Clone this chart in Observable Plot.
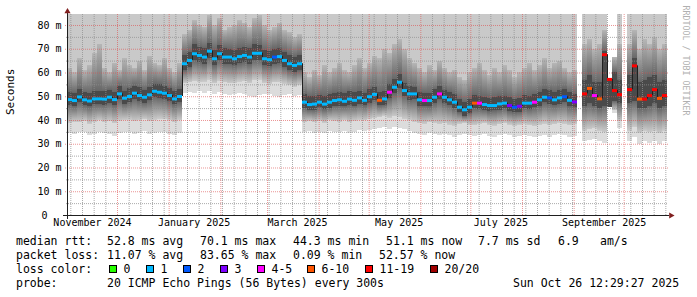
<!DOCTYPE html>
<html><head><meta charset="utf-8">
<script src="https://cdn.jsdelivr.net/npm/d3@7"></script>
<script src="https://cdn.jsdelivr.net/npm/@observablehq/plot@0.6"></script>
<style>
html,body{margin:0;padding:0;background:#fff;}
#wrap{position:relative;width:697px;height:297px;overflow:hidden;font-family:"DejaVu Sans Mono",monospace;}
#chart svg{display:block;}
#legend{position:absolute;left:0;top:232px;width:697px;height:65px;font-size:11.5px;line-height:14px;color:#000;}
#legend .t{position:absolute;white-space:pre;}
#legend .b{position:absolute;width:6px;height:6px;border:1px solid #000;}
</style></head><body>
<svg width="0" height="0" style="position:absolute">
<defs>
<linearGradient id="gLow" x1="0" y1="1" x2="0" y2="0"><stop offset="0" stop-color="#cacaca"/><stop offset="1" stop-color="#676767"/></linearGradient>
<linearGradient id="gUp" x1="0" y1="1" x2="0" y2="0"><stop offset="0" stop-color="#676767"/><stop offset="1" stop-color="#b6b6b6"/></linearGradient>
</defs></svg>
<div id="wrap"><div id="chart"></div><div id="legend"></div></div>
<script>
// ---- time frame (3-day buckets, 360 days) ----
const startDate = "2024-11-01T00:00:00Z";
const endDate = "2025-10-27T00:00:00Z";
const bucketDays = 3;

// ---- median rtt (ms) per bucket ----
const median = [
48.8,48.4,49.9,48.7,48.2,49.1,49.1,49.0,49.8,48.8,51.2,49.4,50.1,51.5,50.5,49.8,50.8,52.3,51.9,51.5,50.5,49.1,50.1,
63.9,65.3,68.1,67.4,66.7,69.2,66.0,68.1,66.7,66.7,66.0,66.9,67.4,66.7,68.3,68.3,66.0,65.6,66.7,66.9,65.3,63.9,63.2,63.9,
47.7,46.7,46.9,47.7,46.9,47.7,48.4,48.7,48.1,49.0,48.5,49.5,48.5,50.0,51.0,48.5,49.1,51.9,54.0,56.1,52.6,51.2,51.2,48.7,48.4,48.4,49.8,51.2,49.8,48.7,47.7,45.6,44.5,45.6,47.3,47.3,46.7,46.3,46.3,47.0,47.3,46.3,45.6,46.0,47.3,47.3,47.7,48.7,49.8,49.5,48.7,49.5,50.0,48.5,47.8,
null,51.2,53.5,50.5,49.1,67.7,57.3,52.6,50.9,null,53.0,63.0,49.0,49.0,50.5,53.0,49.3,50.5];

// ---- loss class per bucket (index into lossLabels) ----
const loss = [
1,1,1,1,1,1,1,1,1,1,1,1,1,1,1,1,1,1,1,1,1,1,1,
1,1,1,1,1,1,1,1,1,1,1,1,1,1,1,1,1,1,2,1,1,1,1,1,
1,1,1,1,1,1,1,1,1,1,1,1,1,1,1,5,1,4,1,1,1,1,1,1,4,1,1,4,1,1,1,1,1,1,5,4,1,1,1,1,1,3,2,3,1,1,4,1,1,2,1,1,2,1,3,
0,6,5,4,5,6,6,6,6,0,6,6,5,6,6,6,5,6];

// ---- smoke band edges (ms) per bucket ----
const lo = [
34.5,34.0,34.8,35.0,33.6,34.2,35.1,34.6,34.0,33.2,34.5,34.8,35.0,34.2,34.6,35.2,34.0,34.4,34.8,35.0,34.1,33.5,34.7,
51.5,51.8,51.2,52.0,51.5,52.2,51.0,51.6,50.8,50.6,51.0,51.4,50.8,50.2,49.6,50.5,50.8,51.0,50.2,49.8,50.6,51.0,50.2,50.4,
34.8,35.2,34.6,35.0,34.4,35.5,35.0,34.8,35.3,34.6,35.0,35.6,35.2,35.8,36.0,36.5,37.0,36.4,37.2,36.8,36.0,35.4,34.6,34.0,33.8,34.5,34.2,33.6,34.0,33.5,33.0,33.8,34.2,33.5,33.2,33.8,34.0,33.4,33.0,33.6,34.0,33.5,33.0,33.4,33.8,33.2,32.8,33.4,33.8,33.0,33.5,34.0,33.6,33.0,33.4,
null,31.0,31.5,32.0,31.0,30.5,45.5,43.0,36.6,null,31.0,33.0,30.0,31.0,30.5,31.0,30.0,31.0];
const l1 = [
38.8,39.2,39.0,39.6,38.4,39.2,39.8,39.0,39.4,38.6,39.6,40.0,40.2,39.4,39.8,40.4,39.6,40.2,40.6,40.4,39.8,39.0,40.0,
55.5,55.8,56.4,56.0,56.2,57.0,55.4,56.6,55.8,55.4,55.6,56.2,56.4,55.6,56.8,57.0,55.6,55.2,55.8,56.0,55.2,54.6,54.0,54.6,
39.0,39.5,39.0,39.4,38.8,39.8,39.5,39.2,39.8,39.0,39.6,40.0,39.8,40.4,40.8,41.2,41.8,41.0,41.5,41.2,40.5,40.0,39.2,38.6,38.4,39.0,38.8,38.2,38.6,38.0,37.6,38.4,38.8,38.0,37.8,38.4,38.6,38.0,37.6,38.2,38.6,38.0,37.6,38.0,38.4,37.8,37.4,38.0,38.5,37.8,38.2,38.8,38.4,37.8,38.2,
null,35.5,36.0,36.5,35.5,35.0,45.5,44.0,39.5,null,35.5,37.0,34.5,35.5,35.0,35.5,34.5,35.5];
const dk1 = [
46.3,45.9,47.4,46.2,45.7,46.6,46.6,46.5,47.3,46.3,48.7,46.9,47.6,49.0,48.0,47.3,48.3,49.8,49.4,49.0,48.0,46.6,47.6,
60.9,62.3,65.1,64.4,63.7,66.2,63.0,65.1,63.7,63.7,63.0,63.9,64.4,63.7,65.3,65.3,63.0,62.6,63.7,63.9,62.3,60.9,60.2,60.9,
45.0,44.3,44.2,45.3,44.5,45.0,46.0,46.0,45.8,46.3,46.1,46.8,46.2,47.3,48.4,46.2,46.4,49.2,51.2,53.4,50.3,48.5,48.9,46.0,46.1,45.7,47.2,48.9,47.1,46.4,45.0,43.3,41.8,43.0,44.9,44.6,44.3,43.6,44.0,44.4,44.9,43.6,43.2,43.4,44.9,44.6,45.3,46.0,47.4,46.8,46.3,46.8,47.6,45.8,45.4,
null,46.0,47.0,46.0,45.0,46.0,45.5,48.0,47.0,null,47.0,48.0,45.0,45.0,46.0,47.0,45.0,46.0];
const dk2 = [
51.9,51.4,53.1,51.6,51.2,52.3,52.0,52.1,52.8,51.9,54.4,52.3,53.3,54.5,53.7,52.8,54.0,55.3,55.1,54.4,53.6,52.2,53.0,
67.5,68.7,71.8,70.8,70.3,72.6,69.6,71.5,70.3,70.0,69.6,70.5,70.8,70.3,71.9,71.7,69.4,69.2,70.1,70.5,68.8,67.5,66.6,67.3,
50.8,49.9,50.1,50.6,50.0,50.9,51.5,51.7,51.2,52.0,51.6,52.4,51.5,53.1,54.0,51.7,52.0,55.0,57.1,59.3,55.7,54.3,54.1,51.8,51.5,51.4,52.9,54.3,52.8,51.8,50.8,48.7,47.6,48.7,50.4,50.2,49.8,49.4,49.5,50.1,50.3,49.5,48.7,49.1,50.4,50.2,50.8,51.8,52.9,52.6,51.8,52.6,53.1,51.7,50.9,
null,57.0,59.0,56.0,56.0,69.0,57.7,60.0,57.0,null,59.0,66.0,56.0,57.0,58.0,59.0,56.0,57.0];
const u1 = [
62,60,66,61,63,68,72,62,60,64,61,66,63,62,65,61,67,64,63,66,62,60,64,
76,78,82,80,79,84,80,83,78,79,80,82,81,79,83,84,80,78,79,81,78,77,75,76,
60,58,61,59,63,60,62,64,61,60,63,66,62,64,67,66,70,68,72,74,70,66,64,62,60,63,61,65,62,60,61,58,57,60,62,64,61,59,62,60,63,61,58,60,62,64,61,63,66,62,64,65,62,60,61,
null,72,74,70,72,78,57.7,66.5,72,null,72,78,70,74,72,75,70,72];
const hi = [
85,85,85,85,85,85,85,85,85,85,85,85,85,85,85,85,85,85,85,85,85,85,85,
85,85,85,85,85,85,85,85,85,85,85,85,85,85,85,85,85,85,85,85,85,85,85,85,
85,85,85,85,85,85,85,85,85,85,85,85,85,85,85,85,85,85,85,85,85,85,85,85,85,85,85,85,85,85,85,85,85,85,85,85,85,85,85,85,85,85,85,85,85,85,85,85,85,85,85,85,85,85,85,
null,85,85,85,85,85,57.7,66.5,85,null,85,85,85,85,85,85,85,85];

// ---- axes / ticks ----
const yTicks = [0,10,20,30,40,50,60,70,80];
const yTickLabels = ["0","10 m","20 m","30 m","40 m","50 m","60 m","70 m","80 m"];
const yMinorTicks = [5,15,25,35,45,55,65,75];
const xLabels = ["November 2024","January 2025","March 2025","May 2025","July 2025","September 2025"];
const xLabelDates = ["2024-11-16","2025-01-16","2025-03-19","2025-05-19","2025-07-19","2025-09-19"];
const yMax = 84.63;

// ---- legend ----
const lossLabels = ["0","1","2","3","4-5","6-10","11-19","20/20"];
const lossColors = ["#26ff00","#00b8ff","#0059ff","#7e00ff","#ff00ff","#ff5500","#ff0000","#a00000"];
const rttStats = ["52.8","70.1","44.3","51.1"];
const rttSd = "7.7";
const rttAms = "6.9";
const lossStats = ["11.07","83.65","0.09","52.57"];
const statNames = ["avg","max","min","now"];
const probeText = "20 ICMP Echo Pings (56 Bytes) every 300s";
const stampText = "Sun Oct 26 12:29:27 2025";

// ---- build ----
const DAY = 864e5;
const t0 = new Date(startDate).getTime();
const t1 = new Date(endDate).getTime();
const rows = [];
median.forEach((m, i) => {
  if (m == null) return;
  rows.push({i, x1: new Date(t0 + i*bucketDays*DAY), x2: new Date(t0 + (i+1)*bucketDays*DAY),
    m, loss: loss[i], lo: lo[i], l1: l1[i], dk1: dk1[i], dk2: dk2[i], u1: u1[i], hi: hi[i]});
});
const connectors = [];
for (let k = 0; k + 1 < rows.length; k++) {
  if (rows[k+1].i === rows[k].i + 1) connectors.push({x: rows[k].x2, a: rows[k].m, b: rows[k+1].m});
}
const months = d3.utcMonth.range(new Date(t0 + 1), new Date(t1));
const weeks = d3.utcSunday.range(new Date(t0), new Date(t1)).filter(d => d.getUTCDate() !== 1);

const band = (y1, y2, fill) => Plot.rect(rows, {x1: "x1", x2: "x2", y1, y2, fill, shapeRendering: "crispEdges", clip: true});
const minorC = "rgba(143,143,143,0.75)";
const majorC = "rgba(222,79,79,0.6)";
const arrowC = "#801f1f";
const axisC = "#1f1f1f";
const tickIdx = yTicks.map((v, i) => i);

const chart = Plot.plot({
  width: 697, height: 232,
  marginLeft: 67, marginRight: 30, marginTop: 14, marginBottom: 17,
  x: {type: "utc", domain: [new Date(t0), new Date(t1)], axis: null},
  y: {domain: [0, yMax], axis: null},
  color: {type: "identity"},
  style: {background: "#fff", fontFamily: "'DejaVu Sans Mono', monospace", fontSize: "10px", overflow: "visible", color: "#000"},
  marks: [
    band("lo", "l1", "#dcdcdc"),
    band("l1", "dk1", "url(#gLow)"),
    band("dk1", "dk2", "#4a4a4a"),
    band("dk2", "u1", "url(#gUp)"),
    band("u1", "hi", "#c9c9c9"),
    Plot.ruleX(weeks, {stroke: minorC, strokeDasharray: "1,1"}),
    Plot.ruleY(yMinorTicks, {stroke: minorC, strokeDasharray: "1,1", insetLeft: -1, insetRight: -1}),
    Plot.ruleX(months, {stroke: majorC, strokeDasharray: "1,1"}),
    Plot.ruleY(yTicks.filter(v => v > 0), {stroke: majorC, strokeDasharray: "1,1", insetLeft: -2, insetRight: -1}),
    Plot.ruleX(connectors, {x: "x", y1: "a", y2: "b", stroke: "#202020", strokeWidth: 1}),
    Plot.ruleY(rows, {y: "m", x1: "x1", x2: "x2", stroke: d => lossColors[d.loss], strokeWidth: 3}),
    Plot.ruleY([0], {stroke: axisC, insetLeft: -4, insetRight: -2}),
    Plot.ruleX([new Date(t0)], {stroke: axisC, insetTop: -3, insetBottom: -4}),
    Plot.dot([{x: new Date(t0), y: yMax}], {x: "x", y: "y", symbol: "triangle", r: 2.3, fill: arrowC, stroke: "none", dy: -3}),
    Plot.dot([{x: new Date(t1), y: 0}], {x: "x", y: "y", symbol: "triangle", r: 2.3, fill: arrowC, stroke: "none", dx: 3.5, rotate: 90}),
    Plot.text(tickIdx.filter(i => yTicks[i] !== 0), {y: i => yTicks[i], text: i => yTickLabels[i], frameAnchor: "left", dx: -6, textAnchor: "end", fill: "#000"}),
    Plot.text(tickIdx.filter(i => yTicks[i] === 0), {y: i => yTicks[i], text: i => yTickLabels[i], frameAnchor: "left", dx: -20, textAnchor: "end", fill: "#000"}),
    Plot.text(xLabelDates, {x: d => new Date(d + "T00:00:00Z"), text: (d, i) => xLabels[i], frameAnchor: "bottom", dy: 10, fill: "#000"}),
    Plot.text(["Seconds"], {text: d => d, frameAnchor: "left", dx: -57, rotate: -90, fontSize: 11, fill: "#000"}),
    Plot.text(["RRDTOOL / TOBI OETIKER"], {text: d => d, frameAnchor: "top-right", dx: 21, dy: -9, rotate: 90, textAnchor: "start", fontSize: 8.3, fill: "#b0b0b0"})
  ]
});
document.getElementById("chart").append(chart);

// ---- legend (html below the svg) ----
const leg = document.getElementById("legend");
function txt(s, x, top) { const e = document.createElement("span"); e.className = "t"; e.textContent = s; e.style.left = x + "px"; e.style.top = top + "px"; leg.append(e); }
function box(c, x, top) { const e = document.createElement("span"); e.className = "b"; e.style.background = c; e.style.left = x + "px"; e.style.top = top + "px"; leg.append(e); }
const rttX = [107, 200, 293, 386];
txt("median rtt:", 16, 2);
rttStats.forEach((v, i) => txt(v + " ms " + statNames[i], rttX[i], 2));
txt(rttSd + " ms sd", 478, 2);
txt(rttAms, 558, 2);
txt("am/s", 600, 2);
const lossX = [107, 200, 293, 379];
txt("packet loss:", 16, 16);
lossStats.forEach((v, i) => txt(v + " % " + statNames[i], lossX[i], 16));
txt("loss color:", 16, 30);
const boxX = [109, 146, 183, 220, 257, 307, 365, 430];
lossLabels.forEach((s, i) => { box(lossColors[i], boxX[i], 33); txt(s, boxX[i] + 14.5, 30); });
txt("probe:", 16, 44);
txt(probeText, 107, 44);
txt(stampText, 513, 44);
</script>
</body></html>
